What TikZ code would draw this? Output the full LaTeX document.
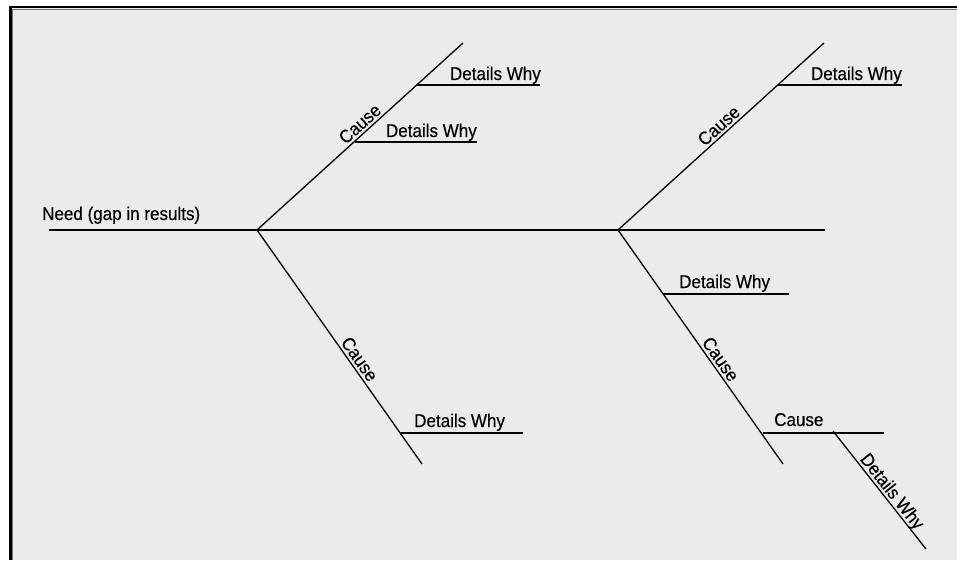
\documentclass[tikz,border=0pt]{standalone}
\usepackage{fontspec}
\setmainfont[FakeBold=0.35]{Liberation Sans}
\definecolor{bg}{HTML}{EBEBEB}
\newcommand{\tx}[1]{\scalebox{0.92}[1]{#1}}
\begin{document}
\begin{tikzpicture}[x=1pt,y=1pt,
  bone/.style={line width=1.3pt,black},
  lbl/.style={font=\fontsize{18.5}{20}\selectfont,inner sep=2.5pt,text depth=0pt},
  hlbl/.style={font=\fontsize{18.5}{20}\selectfont,inner sep=0pt}]
\useasboundingbox (0,0) rectangle (957,560);
\fill[white] (0,0) rectangle (957,560);
\fill[bg] (10,0) rectangle (957,553);
\draw[line width=2.6pt,black] (10.3,0) -- (10.3,552.8) -- (957,552.8);
\draw[line width=1pt,black!55] (12.2,0) -- (12.2,550.8) -- (957,550.8);
% coordinates
\coordinate (S0) at (49,330);
\coordinate (S1) at (825,330);
\coordinate (J1) at (257,330);
\coordinate (U1) at (463,517);
\coordinate (L1) at (422,96);
\coordinate (J2) at (618,330);
\coordinate (U2) at (824,517);
\coordinate (L2) at (783,96);
\coordinate (a1) at (417,475); \coordinate (a2) at (540,475);
\coordinate (b1) at (355,418); \coordinate (b2) at (477,418);
\coordinate (c1) at (401,127); \coordinate (c2) at (523,127);
\coordinate (d1) at (778,475); \coordinate (d2) at (902,475);
\coordinate (e1) at (663,266); \coordinate (e2) at (789,266);
\coordinate (f1) at (763,127); \coordinate (f2) at (884,127);
\coordinate (g1) at (833,129); \coordinate (g2) at (926,11);
% spine
\draw[bone] (S0) -- (S1);
\node[hlbl,anchor=base west] (need) at (42,340) {\tx{Need (gap in results)}};
% left bones
\draw[bone] (J1) -- node[lbl,pos=0.53,sloped,above] (cA) {\tx{Cause}} (U1);
\draw[bone] (J1) -- node[lbl,pos=0.575,sloped,above] (cB) {\tx{Cause}} (L1);
\draw[bone] (a1) -- (a2);
\node[hlbl,anchor=base east] (dA) at (541,480) {\tx{Details Why}};
\draw[bone] (b1) -- (b2);
\node[hlbl,anchor=base east] (dB) at (477,423) {\tx{Details Why}};
\draw[bone] (c1) -- (c2);
\node[hlbl,anchor=base west] (dC) at (414,133) {\tx{Details Why}};
% right bones
\draw[bone] (J2) -- node[lbl,pos=0.52,sloped,above] (cC) {\tx{Cause}} (U2);
\draw[bone] (J2) -- node[lbl,pos=0.575,sloped,above] (cD) {\tx{Cause}} (L2);
\draw[bone] (d1) -- (d2);
\node[hlbl,anchor=base east] (dD) at (902,480) {\tx{Details Why}};
\draw[bone] (e1) -- (e2);
\node[hlbl,anchor=base west] (dE) at (679,272) {\tx{Details Why}};
\draw[bone] (f1) -- (f2);
\node[hlbl,anchor=base west] (cE) at (774,134) {\tx{Cause}};
\draw[bone] (g1) -- node[lbl,pos=0.56,sloped,above] (dF) {\tx{Details Why}} (g2);
\end{tikzpicture}
\end{document}
